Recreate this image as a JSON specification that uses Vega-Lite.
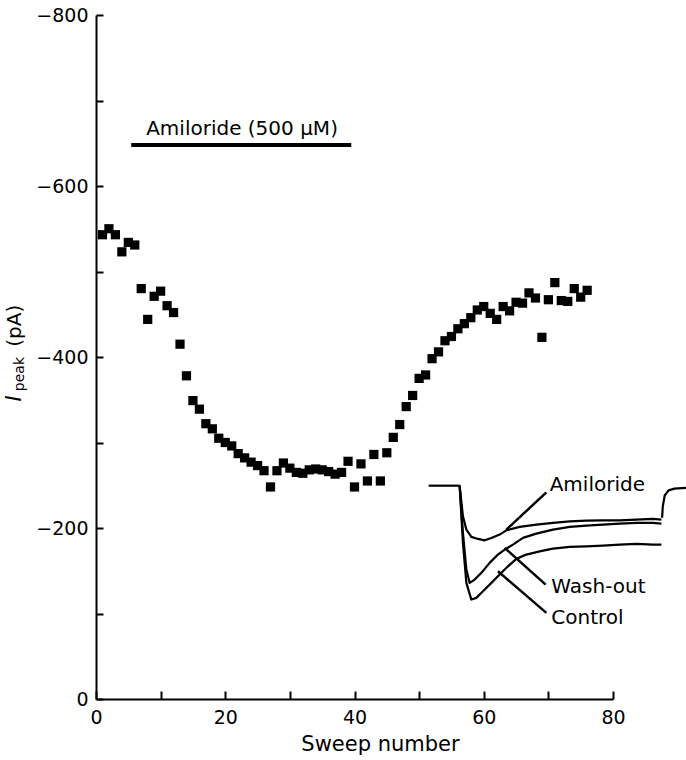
{
  "$schema": "https://vega.github.io/schema/vega-lite/v6.json",
  "width": 517,
  "height": 684,
  "autosize": {"type": "none"},
  "padding": {"left": 96, "top": 15, "right": 73, "bottom": 61},
  "background": "white",
  "config": {
    "view": {"stroke": null},
    "font": "DejaVu Sans",
    "axis": {
      "grid": false,
      "domainColor": "black",
      "domainWidth": 2,
      "tickColor": "black",
      "tickWidth": 2,
      "labelColor": "black",
      "labelFont": "DejaVu Sans",
      "labelFontSize": 19,
      "labelFlush": false,
      "titleFont": "DejaVu Sans",
      "titleFontSize": 21,
      "titleFontWeight": "normal",
      "titleColor": "black"
    }
  },
  "datasets": {
    "points": [
      {"x": 1, "y": -543}, {"x": 2, "y": -550}, {"x": 3, "y": -543}, {"x": 4, "y": -523},
      {"x": 5, "y": -534}, {"x": 6, "y": -531}, {"x": 7, "y": -480}, {"x": 8, "y": -444},
      {"x": 9, "y": -471}, {"x": 10, "y": -477}, {"x": 11, "y": -460}, {"x": 12, "y": -452},
      {"x": 13, "y": -415}, {"x": 14, "y": -378}, {"x": 15, "y": -349}, {"x": 16, "y": -339},
      {"x": 17, "y": -322}, {"x": 18, "y": -316}, {"x": 19, "y": -305}, {"x": 20, "y": -300},
      {"x": 21, "y": -296}, {"x": 22, "y": -287}, {"x": 23, "y": -282}, {"x": 24, "y": -277},
      {"x": 25, "y": -273}, {"x": 26, "y": -267}, {"x": 27, "y": -248}, {"x": 28, "y": -267},
      {"x": 29, "y": -276}, {"x": 30, "y": -270}, {"x": 31, "y": -265}, {"x": 32, "y": -264},
      {"x": 33, "y": -268}, {"x": 34, "y": -269}, {"x": 35, "y": -268}, {"x": 36, "y": -266},
      {"x": 37, "y": -263}, {"x": 38, "y": -265}, {"x": 39, "y": -278}, {"x": 40, "y": -248},
      {"x": 41, "y": -275}, {"x": 42, "y": -255}, {"x": 43, "y": -286}, {"x": 44, "y": -255},
      {"x": 45, "y": -288}, {"x": 46, "y": -306}, {"x": 47, "y": -321}, {"x": 48, "y": -342},
      {"x": 49, "y": -355}, {"x": 50, "y": -375}, {"x": 51, "y": -379}, {"x": 52, "y": -398},
      {"x": 53, "y": -406}, {"x": 54, "y": -419}, {"x": 55, "y": -424}, {"x": 56, "y": -433},
      {"x": 57, "y": -439}, {"x": 58, "y": -446}, {"x": 59, "y": -455}, {"x": 60, "y": -459},
      {"x": 61, "y": -451}, {"x": 62, "y": -444}, {"x": 63, "y": -459}, {"x": 64, "y": -454},
      {"x": 65, "y": -464}, {"x": 66, "y": -463}, {"x": 67, "y": -475}, {"x": 68, "y": -469},
      {"x": 69, "y": -423}, {"x": 70, "y": -467}, {"x": 71, "y": -487}, {"x": 72, "y": -466},
      {"x": 73, "y": -465}, {"x": 74, "y": -480}, {"x": 75, "y": -470}, {"x": 76, "y": -478}
    ],
    "traces": [
      {"trace": "Pre", "x": 51.47, "y": -249.5}, {"trace": "Pre", "x": 56.27, "y": -249.5},
      {"trace": "Amiloride", "x": 56.27, "y": -249.5}, {"trace": "Amiloride", "x": 56.78, "y": -213.7},
      {"trace": "Amiloride", "x": 57.31, "y": -198.1}, {"trace": "Amiloride", "x": 58.08, "y": -189.6},
      {"trace": "Amiloride", "x": 59.10, "y": -187.2}, {"trace": "Amiloride", "x": 60.14, "y": -185.6},
      {"trace": "Amiloride", "x": 61.18, "y": -188.4}, {"trace": "Amiloride", "x": 62.46, "y": -192.3},
      {"trace": "Amiloride", "x": 63.50, "y": -197.3}, {"trace": "Amiloride", "x": 65.56, "y": -201.3},
      {"trace": "Amiloride", "x": 68.14, "y": -203.9}, {"trace": "Amiloride", "x": 70.71, "y": -205.9},
      {"trace": "Amiloride", "x": 73.30, "y": -207.8}, {"trace": "Amiloride", "x": 75.88, "y": -208.6},
      {"trace": "Amiloride", "x": 78.45, "y": -209.0}, {"trace": "Amiloride", "x": 81.04, "y": -209.0},
      {"trace": "Amiloride", "x": 83.62, "y": -209.8}, {"trace": "Amiloride", "x": 86.19, "y": -210.6},
      {"trace": "Amiloride", "x": 87.49, "y": -209.8},
      {"trace": "Wash-out", "x": 56.27, "y": -249.5}, {"trace": "Wash-out", "x": 56.78, "y": -194.2},
      {"trace": "Wash-out", "x": 57.31, "y": -151.4}, {"trace": "Wash-out", "x": 57.82, "y": -135.8},
      {"trace": "Wash-out", "x": 58.59, "y": -139.7}, {"trace": "Wash-out", "x": 59.63, "y": -147.5},
      {"trace": "Wash-out", "x": 60.91, "y": -159.2}, {"trace": "Wash-out", "x": 62.20, "y": -168.9},
      {"trace": "Wash-out", "x": 63.24, "y": -174.7}, {"trace": "Wash-out", "x": 64.52, "y": -180.6},
      {"trace": "Wash-out", "x": 66.07, "y": -188.4}, {"trace": "Wash-out", "x": 68.14, "y": -193.4},
      {"trace": "Wash-out", "x": 70.71, "y": -198.1}, {"trace": "Wash-out", "x": 73.30, "y": -201.3},
      {"trace": "Wash-out", "x": 75.88, "y": -202.8}, {"trace": "Wash-out", "x": 78.45, "y": -203.9},
      {"trace": "Wash-out", "x": 81.04, "y": -205.1}, {"trace": "Wash-out", "x": 83.62, "y": -205.9},
      {"trace": "Wash-out", "x": 86.19, "y": -205.9}, {"trace": "Wash-out", "x": 87.49, "y": -205.1},
      {"trace": "Control", "x": 56.27, "y": -249.5}, {"trace": "Control", "x": 56.78, "y": -182.6},
      {"trace": "Control", "x": 57.31, "y": -135.8}, {"trace": "Control", "x": 58.08, "y": -116.3},
      {"trace": "Control", "x": 58.85, "y": -118.3}, {"trace": "Control", "x": 59.88, "y": -126.0},
      {"trace": "Control", "x": 61.18, "y": -135.8}, {"trace": "Control", "x": 62.46, "y": -145.5},
      {"trace": "Control", "x": 63.75, "y": -155.2}, {"trace": "Control", "x": 65.05, "y": -163.9},
      {"trace": "Control", "x": 66.59, "y": -168.9}, {"trace": "Control", "x": 68.65, "y": -172.7},
      {"trace": "Control", "x": 70.71, "y": -175.9}, {"trace": "Control", "x": 73.30, "y": -177.9},
      {"trace": "Control", "x": 75.88, "y": -178.6}, {"trace": "Control", "x": 78.45, "y": -179.4},
      {"trace": "Control", "x": 81.04, "y": -180.6}, {"trace": "Control", "x": 83.62, "y": -181.4},
      {"trace": "Control", "x": 86.19, "y": -180.6}, {"trace": "Control", "x": 87.49, "y": -180.6},
      {"trace": "Tail", "x": 87.60, "y": -212.0}, {"trace": "Tail", "x": 87.70, "y": -225.0},
      {"trace": "Tail", "x": 88.00, "y": -238.0}, {"trace": "Tail", "x": 88.60, "y": -244.0},
      {"trace": "Tail", "x": 89.50, "y": -246.0}, {"trace": "Tail", "x": 91.30, "y": -247.0}
    ],
    "leaders": [
      {"x": 69.69, "y": -241.7, "x2": 63.50, "y2": -198.1},
      {"x": 69.58, "y": -133.8, "x2": 63.24, "y2": -176.7},
      {"x": 69.69, "y": -100.7, "x2": 62.20, "y2": -149.4}
    ],
    "labels": [
      {"label": "Amiloride", "x": 70.2, "y": -242.9},
      {"label": "Wash-out", "x": 70.46, "y": -124.1},
      {"label": "Control", "x": 70.46, "y": -88.2}
    ]
  },
  "layer": [
    {
      "data": {"name": "points"},
      "mark": {"type": "square", "size": 85, "color": "black", "opacity": 1, "filled": true},
      "encoding": {
        "x": {
          "field": "x", "type": "quantitative",
          "scale": {"domain": [0, 80], "nice": false, "zero": false},
          "axis": {
            "title": "Sweep number",
            "titleX": 284,
            "values": [0, 10, 20, 30, 40, 50, 60, 70, 80],
            "labelExpr": "datum.value % 20 === 0 ? datum.label : ''",
            "tickSize": -8,
            "labelPadding": 17,
            "titlePadding": 6
          }
        },
        "y": {
          "field": "y", "type": "quantitative",
          "scale": {"domain": [-800, 0], "reverse": true, "nice": false, "zero": false},
          "axis": {
            "title": null,
            "values": [-800, -700, -600, -500, -400, -300, -200, -100, 0],
            "labelExpr": "datum.value % 200 === 0 ? datum.label : ''",
            "tickSize": -7,
            "labelPadding": 15
          }
        }
      }
    },
    {
      "data": {"name": "traces"},
      "mark": {"type": "line", "color": "black", "strokeWidth": 2.2, "strokeJoin": "round"},
      "encoding": {
        "x": {"field": "x", "type": "quantitative"},
        "y": {"field": "y", "type": "quantitative"},
        "detail": {"field": "trace"}
      }
    },
    {
      "data": {"name": "leaders"},
      "mark": {"type": "rule", "color": "black", "strokeWidth": 2.5},
      "encoding": {
        "x": {"field": "x", "type": "quantitative"},
        "y": {"field": "y", "type": "quantitative"},
        "x2": {"field": "x2"},
        "y2": {"field": "y2"}
      }
    },
    {
      "data": {"name": "labels"},
      "mark": {"type": "text", "align": "left", "baseline": "alphabetic", "fontSize": 20, "color": "black", "font": "DejaVu Sans"},
      "encoding": {
        "x": {"field": "x", "type": "quantitative"},
        "y": {"field": "y", "type": "quantitative"},
        "text": {"field": "label"}
      }
    },
    {
      "data": {"values": [{}]},
      "mark": {"type": "rule", "color": "black", "strokeWidth": 4},
      "encoding": {
        "x": {"datum": 5.45, "type": "quantitative"},
        "x2": {"datum": 39.5},
        "y": {"datum": -648, "type": "quantitative"}
      }
    },
    {
      "data": {"values": [{}]},
      "mark": {"type": "text", "align": "center", "baseline": "alphabetic", "fontSize": 20, "color": "black", "font": "DejaVu Sans", "text": "Amiloride (500 μM)"},
      "encoding": {
        "x": {"datum": 22.6, "type": "quantitative"},
        "y": {"datum": -659.8, "type": "quantitative"}
      }
    },
    {
      "data": {"values": [{}]},
      "mark": {"type": "text", "align": "left", "baseline": "alphabetic", "angle": 270, "fontSize": 21, "fontStyle": "italic", "color": "black", "font": "DejaVu Sans", "text": "I"},
      "encoding": {
        "x": {"datum": -11.6, "type": "quantitative"},
        "y": {"datum": -348, "type": "quantitative"}
      }
    },
    {
      "data": {"values": [{}]},
      "mark": {"type": "text", "align": "left", "baseline": "alphabetic", "angle": 270, "fontSize": 14, "color": "black", "font": "DejaVu Sans", "text": "peak"},
      "encoding": {
        "x": {"datum": -11.2, "type": "quantitative"},
        "y": {"datum": -360, "type": "quantitative"}
      }
    },
    {
      "data": {"values": [{}]},
      "mark": {"type": "text", "align": "left", "baseline": "alphabetic", "angle": 270, "fontSize": 20, "color": "black", "font": "DejaVu Sans", "text": "(pA)"},
      "encoding": {
        "x": {"datum": -11.6, "type": "quantitative"},
        "y": {"datum": -412, "type": "quantitative"}
      }
    }
  ]
}
